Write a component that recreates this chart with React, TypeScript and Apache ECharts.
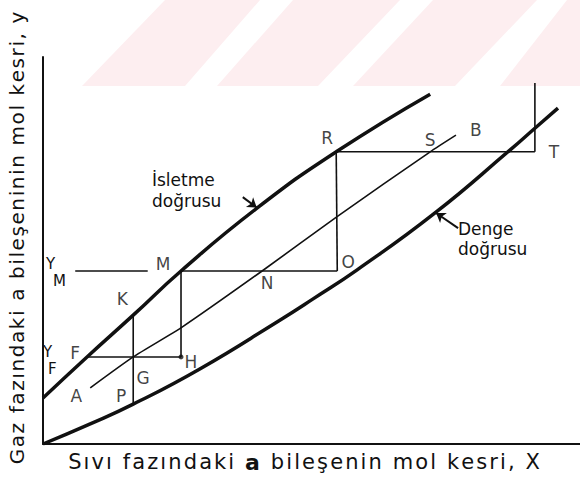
import React, { useEffect, useRef } from "react";
import * as echarts from "echarts";

// Equilibrium curve (Denge doğrusu): liquid mole fraction X vs gas mole fraction y
const equilibriumCurve: [number, number][] = [
  [0, 0], [0.088, 0.052], [0.168, 0.103], [0.292, 0.194], [0.441, 0.32],
  [0.503, 0.375], [0.585, 0.45], [0.73, 0.597], [0.87, 0.76], [0.916, 0.816], [0.959, 0.868],
];

// Operating line (İşletme doğrusu)
const operatingLine: [number, number][] = [
  [0, 0.119], [0.082, 0.225], [0.168, 0.333], [0.257, 0.447], [0.399, 0.61],
  [0.546, 0.755], [0.721, 0.904],
];

// Auxiliary line A–B
const lineAB: [number, number][] = [
  [0.088, 0.145], [0.168, 0.225], [0.259, 0.302], [0.408, 0.447],
  [0.547, 0.587], [0.721, 0.755], [0.769, 0.798],
];

// Horizontal / vertical construction segments
const constructionSegments: [number, number][][] = [
  [[0.06, 0.447], [0.195, 0.447]],   // y_M — M
  [[0.257, 0.447], [0.548, 0.447]],  // M — O
  [[0.546, 0.755], [0.548, 0.447]],  // R — O
  [[0.546, 0.755], [0.916, 0.755]],  // R — T
  [[0.916, 0.755], [0.916, 0.933]],  // T upwards
  [[0.257, 0.447], [0.257, 0.225]],  // M — H
  [[0.082, 0.225], [0.257, 0.225]],  // F — H
  [[0.168, 0.333], [0.168, 0.103]],  // K — P
];

// Named points of the construction
const namedPoints: { name: string; x: number; y: number }[] = [
  { name: "R", x: 0.546, y: 0.755 },
  { name: "S", x: 0.721, y: 0.755 },
  { name: "B", x: 0.769, y: 0.798 },
  { name: "T", x: 0.916, y: 0.755 },
  { name: "O", x: 0.548, y: 0.447 },
  { name: "N", x: 0.408, y: 0.447 },
  { name: "M", x: 0.257, y: 0.447 },
  { name: "K", x: 0.168, y: 0.333 },
  { name: "F", x: 0.082, y: 0.225 },
  { name: "G", x: 0.168, y: 0.225 },
  { name: "H", x: 0.257, y: 0.225 },
  { name: "A", x: 0.088, y: 0.145 },
  { name: "P", x: 0.168, y: 0.103 },
];

// Pointer arrows for the curve captions
const captionArrows: [number, number][][] = [
  [[0.372, 0.638], [0.398, 0.611]],
  [[0.773, 0.558], [0.732, 0.597]],
];

const xTitle = "Sıvı fazındaki a bileşenin mol kesri, X";
const yTitle = "Gaz fazındaki a bileşeninin mol kesri, y";

const FONT = "DejaVu Sans";
const INK = "#111";

const labelOffsets: Record<string, [number, number]> = {
  R: [-9, -14], S: [0, -12], B: [20, -5], T: [19, 0], O: [11, -9],
  N: [5, 12], M: [-18, -7], K: [-11, -16], F: [-12, -4], G: [10, 21],
  H: [10, 5], A: [-14, 8], P: [-12, -8],
};

// Spread letters out by wrapping each one in a padded rich-text fragment
function spaced(text: string, boldChar?: string): string {
  let seen = false;
  return Array.from(text)
    .map((ch, i, arr) => {
      const isBlob = boldChar && ch === boldChar && !seen && arr[i - 1] === " " && arr[i + 1] === " ";
      if (isBlob) seen = true;
      return `{${isBlob ? "b" : "c"}|${ch}}`;
    })
    .join("");
}

export default function App() {
  const ref = useRef<HTMLDivElement>(null);

  useEffect(() => {
    if (!ref.current) return;
    const chart = echarts.init(ref.current, null, { renderer: "svg" });

    const stripes = [
      [[82, 86], [185, 86], [260, 0], [165, 0]],
      [[217, 86], [318, 86], [400, 0], [293, 0]],
      [[353, 86], [455, 86], [537, 0], [433, 0]],
      [[500, 86], [580, 86], [580, 0], [567, 0]],
    ];

    const axisCommon = {
      type: "value" as const,
      min: 0,
      max: 1,
      axisTick: { show: false },
      axisLabel: { show: false },
      splitLine: { show: false },
      axisLine: { show: true, onZero: false, lineStyle: { color: INK, width: 2 } },
    };

    const letterText = (x: number, y: number, text: string, size = 16) => ({
      type: "text",
      x,
      y,
      style: { text, font: `${size}px "${FONT}"`, fill: INK, verticalAlign: "middle" },
    });

    chart.setOption({
      animation: false,
      backgroundColor: "#fff",
      grid: { left: 43, right: 0, top: 57, bottom: 35 },
      xAxis: axisCommon,
      yAxis: axisCommon,
      graphic: [
        ...stripes.map((pts) => ({
          type: "polygon",
          z: -10,
          silent: true,
          shape: { points: pts },
          style: { fill: "#fdeef0" },
        })),
        {
          type: "text",
          x: 17,
          y: 238,
          rotation: Math.PI / 2,
          style: {
            text: spaced(yTitle),
            rich: {
              c: { fontSize: 20, fontFamily: FONT, fill: INK, padding: [0, 0.8] },
            },
            align: "center",
            verticalAlign: "middle",
          },
        },
        {
          type: "text",
          x: 304,
          y: 462,
          style: {
            text: spaced(xTitle, "a"),
            rich: {
              c: { fontSize: 21, fontFamily: FONT, fill: INK, padding: [0, 1.05] },
              b: { fontSize: 22, fontWeight: 900, fontFamily: FONT, fill: INK, padding: [0, 1.05] },
            },
            align: "center",
            verticalAlign: "middle",
          },
        },
        letterText(152, 180, "İsletme", 17),
        letterText(152, 201, "doğrusu", 17),
        letterText(458, 229, "Denge", 17),
        letterText(458, 249, "doğrusu", 17),
        letterText(46, 264, "Y", 15),
        letterText(53, 281, "M", 15),
        letterText(43, 352, "Y", 15),
        letterText(48, 369, "F", 15),
      ],
      series: [
        {
          type: "line",
          data: equilibriumCurve,
          smooth: 0.5,
          symbol: "none",
          lineStyle: { color: INK, width: 3.5 },
          z: 3,
        },
        {
          type: "line",
          data: operatingLine,
          smooth: 0.5,
          symbol: "none",
          lineStyle: { color: INK, width: 3.5 },
          z: 3,
        },
        {
          type: "line",
          data: lineAB,
          smooth: 0.2,
          symbol: "none",
          lineStyle: { color: INK, width: 1.6 },
        },
        ...constructionSegments.map((seg) => ({
          type: "line",
          data: seg,
          symbol: "none",
          lineStyle: { color: INK, width: 1.6 },
        })),
        {
          type: "lines",
          coordinateSystem: "cartesian2d",
          symbol: ["none", "arrow"],
          symbolSize: 9,
          lineStyle: { color: INK, width: 2, opacity: 1 },
          data: captionArrows.map((c) => ({ coords: c })),
        },
        {
          type: "scatter",
          data: namedPoints.map((p) => ({
            value: [p.x, p.y],
            name: p.name,
            symbolSize: p.name === "H" ? 5 : 0,
            label: { offset: labelOffsets[p.name] },
          })),
          itemStyle: { color: INK },
          label: {
            show: true,
            position: "inside",
            formatter: (p: any) => p.name,
            fontFamily: FONT,
            fontSize: 17,
            color: INK,
          },
          z: 5,
        },
      ],
    });

    return () => chart.dispose();
  }, []);

  return (
    <div
      ref={ref}
      style={{ position: "fixed", left: 0, top: 0, width: 580, height: 479 }}
    />
  );
}
